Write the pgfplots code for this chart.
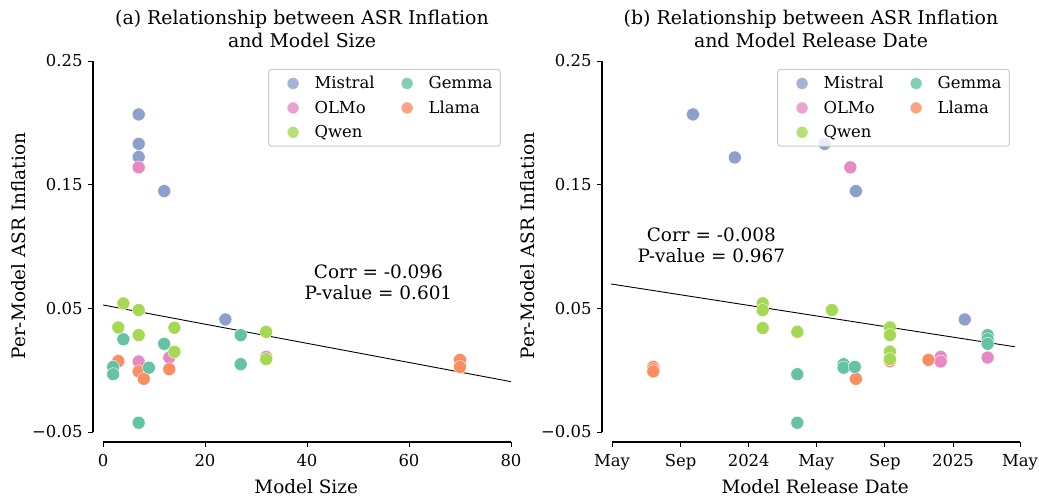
\documentclass[border=0pt]{standalone}
\usepackage{fontspec}
\setmainfont{DejaVu Serif}
\usepackage{pgfplots}
\pgfplotsset{compat=1.18}
\definecolor{cMis}{HTML}{8DA0CB}
\definecolor{cOLM}{HTML}{E78AC3}
\definecolor{cQw}{HTML}{A6D854}
\definecolor{cGem}{HTML}{66C2A5}
\definecolor{cLla}{HTML}{FC8D62}
\pgfplotsset{
  mypanel/.style={
    scale only axis, height=381bp, width=418bp,
    ymin=-0.0581, ymax=0.25,
    axis line style={draw=none},
    ytick={-0.05,0.05,0.15,0.25},
    yticklabels={−0.05,0.05,0.15,0.25},
    tick align=outside, major tick length=5bp, tick pos=left,
    tick style={black, line width=0.9bp},
    ticklabel style={font=\fontsize{16.5}{20}\selectfont},
    xticklabel style={yshift=-4bp},
    yticklabel style={xshift=-2bp},
    label style={font=\fontsize{18.5}{22}\selectfont},
    ylabel style={at={(axis description cs:-0.179,0.514)}, anchor=center, rotate=0},
    xlabel style={at={(axis description cs:0.51,-0.118)}, anchor=center},
    title style={font=\fontsize{19}{23}\selectfont, align=center, at={(axis description cs:0.5,1)}, anchor=south, yshift=4bp},
    clip=false,
    legend columns=2,
    legend cell align=left,
    legend image code/.code={\path (-18bp,0bp) (19bp,0bp); \draw[mark=*, mark size=6bp, ##1] plot coordinates {(0bp,0bp)};},
    legend style={at={(axis description cs:0.976,0.979)}, anchor=north east,
      draw=black!20, line width=1bp, rounded corners=3bp,
      fill=white, fill opacity=0.8, draw opacity=1, text opacity=1,
      font=\fontsize{16.5}{19}\selectfont,
      inner xsep=6bp, inner ysep=5bp, row sep=6.5bp,
      nodes={inner xsep=2bp},
      /tikz/every even column/.append style={column sep=12bp}},
    pts/.style={only marks, mark=*, mark size=6.5bp, mark options={draw=white, line width=0.4bp, fill=##1}, forget plot},
    reg/.style={black, line width=0.9bp, no marks, forget plot},
  }
}
\begin{document}
\begin{tikzpicture}
\useasboundingbox (-93bp,-58bp) rectangle (946bp,442bp);
% ---------------- (a) ----------------
\begin{axis}[mypanel, at={(0bp,0bp)}, anchor=south west,
  xmin=-1.96, xmax=80, xtick={0,20,40,60,80}, xticklabels={0,20,40,60,80},
  title={(a) Relationship between ASR Inflation\\and Model Size},
  xlabel={Model Size}, ylabel={Per-Model ASR Inflation}]
\addlegendimage{mark options={draw=white, line width=0.4bp, fill=cMis}}\addlegendentry{Mistral}
\addlegendimage{mark options={draw=white, line width=0.4bp, fill=cGem}}\addlegendentry{Gemma}
\addlegendimage{mark options={draw=white, line width=0.4bp, fill=cOLM}}\addlegendentry{OLMo}
\addlegendimage{mark options={draw=white, line width=0.4bp, fill=cLla}}\addlegendentry{Llama}
\addlegendimage{mark options={draw=white, line width=0.4bp, fill=cQw}}\addlegendentry{Qwen}
\addplot[pts=cMis] coordinates {(7,0.2068) (7,0.183) (7,0.1724) (12,0.1448) (24,0.041)};
\addplot[pts=cOLM] coordinates {(7,0.164) (7,0.007) (13,0.0102) (32,0.0107)};
\addplot[pts=cLla] coordinates {(3,0.0073) (7,-0.001) (8,-0.007) (13,0.0008) (70,0.0083) (70,0.0026)};
\addplot[pts=cGem] coordinates {(4,0.025) (12,0.0213) (27,0.0283) (2,0.0026) (2,-0.0033) (9,0.002) (27,0.0048) (7,-0.0425)};
\addplot[pts=cQw] coordinates {(4,0.054) (7,0.0486) (3,0.0345) (14,0.0343) (7,0.0283) (32,0.031) (14,0.0148) (32,0.0089)};
\addplot[reg] coordinates {(0,0.0527) (80,-0.0093)};
\draw[line width=1.1bp] (axis cs:-1.96,-0.05) -- (axis cs:-1.96,0.25);
\draw[line width=1.1bp] (axis cs:0,-0.0581) -- (axis cs:80,-0.0581);
\node[align=center, font=\fontsize{18.5}{21}\selectfont] at (axis cs:54,0.0712) {Corr = -0.096\\P-value = 0.601};
\end{axis}
% ---------------- (b) ----------------
\begin{axis}[mypanel, at={(509bp,0bp)}, anchor=south west, width=418bp,
  xmin=-17.9, xmax=731,
  xtick={0,123,245,366,489,611,731},
  xticklabels={May,Sep,2024,May,Sep,2025,May},
  title={(b) Relationship between ASR Inflation\\and Model Release Date},
  xlabel={Model Release Date}, ylabel={Per-Model ASR Inflation},
  ylabel style={at={(axis description cs:-0.178,0.514)}},
  xlabel style={at={(axis description cs:0.51,-0.118)}}]
\addlegendimage{mark options={draw=white, line width=0.4bp, fill=cMis}}\addlegendentry{Mistral}
\addlegendimage{mark options={draw=white, line width=0.4bp, fill=cGem}}\addlegendentry{Gemma}
\addlegendimage{mark options={draw=white, line width=0.4bp, fill=cOLM}}\addlegendentry{OLMo}
\addlegendimage{mark options={draw=white, line width=0.4bp, fill=cLla}}\addlegendentry{Llama}
\addlegendimage{mark options={draw=white, line width=0.4bp, fill=cQw}}\addlegendentry{Qwen}
\addplot[pts=cMis] coordinates {(145,0.2068) (220,0.172) (381,0.183) (437,0.1448) (632,0.041)};
\addplot[pts=cOLM] coordinates {(427,0.164) (589,0.0107) (589,0.007) (673,0.0102)};
\addplot[pts=cLla] coordinates {(74,0.0026) (74,0.0008) (74,-0.001) (437,-0.007) (498,0.0073) (567,0.0083)};
\addplot[pts=cGem] coordinates {(332,-0.0033) (332,-0.0425) (415,0.0048) (415,0.002) (435,0.0026) (673,0.0283) (673,0.025) (673,0.0213)};
\addplot[pts=cQw] coordinates {(270,0.054) (270,0.0486) (270,0.034) (332,0.031) (394,0.0486) (498,0.0345) (498,0.0283) (498,0.015) (498,0.0089)};
\addplot[reg] coordinates {(-2,0.0697) (722,0.0189)};
\draw[line width=1.1bp] (axis cs:-17.9,-0.05) -- (axis cs:-17.9,0.25);
\draw[line width=1.1bp] (axis cs:0,-0.0581) -- (axis cs:731,-0.0581);
\node[align=center, font=\fontsize{18.5}{21}\selectfont] at (axis cs:178,0.1008) {Corr = -0.008\\P-value = 0.967};
\end{axis}
\end{tikzpicture}
\end{document}
